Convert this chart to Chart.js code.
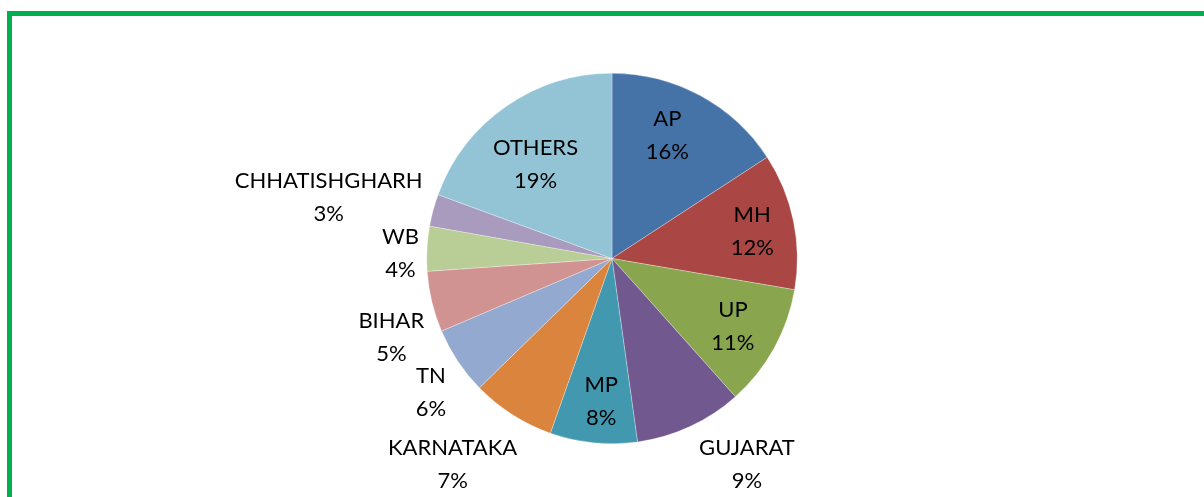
<!DOCTYPE html>
<html>
<head>
<meta charset="utf-8">
<script src="https://cdn.jsdelivr.net/npm/chart.js@4/dist/chart.umd.min.js"></script>
<style>
  html, body { margin: 0; padding: 0; background: #fff; overflow: hidden; }
  #wrap { position: relative; width: 1204px; height: 497px; }
  #frame {
    position: absolute; left: 7px; top: 11px; width: 1400px; height: 700px;
    border: 5px solid #00B050; box-sizing: border-box;
  }
  #chart { position: absolute; left: 0; top: 0; }
</style>
</head>
<body>
<div id="wrap">
  <div id="frame"></div>
  <canvas id="chart" width="1204" height="497"></canvas>
</div>
<script>
const states = ["AP", "MH", "UP", "GUJARAT", "MP", "KARNATAKA", "TN", "BIHAR", "WB", "CHHATISHGHARH", "OTHERS"];
const shares = [15.8, 11.9, 10.7, 9.4, 7.6, 7.3, 5.9, 5.3, 3.9, 2.8, 19.4];
const sliceColors = ["#4572A7", "#AA4643", "#89A54E", "#71588F", "#4198AF", "#DB843D",
                     "#93A9CF", "#D19392", "#B9CD96", "#A99BBD", "#93C4D6"];
// which labels Excel put outside the pie
const outside = [false, false, false, true, false, true, true, true, true, true, false];

const labelFont = "22px Lato, 'Liberation Sans', sans-serif";
const lineH = 33;

// draws "NAME / NN%" labels like Excel's best-fit data labels
const pieLabels = {
  id: "pieLabels",
  afterDatasetsDraw(chart, args, opts) {
    const ctx = chart.ctx;
    const meta = chart.getDatasetMeta(0);
    const total = shares.reduce((a, b) => a + b, 0);
    const shift = opts.shift || [];
    ctx.save();
    ctx.font = labelFont;
    ctx.fillStyle = "#000";
    ctx.textAlign = "center";
    ctx.textBaseline = "middle";
    meta.data.forEach((arc, i) => {
      const { x, y, startAngle, endAngle, outerRadius } = arc.getProps(["x", "y", "startAngle", "endAngle", "outerRadius"], true);
      const mid = (startAngle + endAngle) / 2;
      const ux = Math.cos(mid), uy = Math.sin(mid);
      const line1 = states[i];
      const line2 = Math.round(shares[i] / total * 100) + "%";
      const hw = Math.max(ctx.measureText(line1).width, ctx.measureText(line2).width) / 2;
      const hh = lineH;
      let cx, cy;
      if (outside[i]) {
        const gap = 14;
        const px = x + ux * (outerRadius + gap);
        const py = y + uy * (outerRadius + gap);
        const t = Math.min(Math.abs(ux) > 1e-6 ? hw / Math.abs(ux) : 1e9,
                           Math.abs(uy) > 1e-6 ? hh / Math.abs(uy) : 1e9);
        cx = px + ux * t;
        cy = py + uy * t;
      } else {
        const r = outerRadius * 0.74;
        cx = x + ux * r;
        cy = y + uy * r;
      }
      const s = shift[i] || [0, 0];
      cx += s[0];
      cy += s[1];
      ctx.fillText(line1, cx, cy - lineH / 2);
      ctx.fillText(line2, cx, cy + lineH / 2);
    });
    ctx.restore();
  }
};

new Chart(document.getElementById("chart"), {
  type: "pie",
  data: {
    labels: states,
    datasets: [{
      data: shares,
      backgroundColor: sliceColors,
      borderColor: "rgba(255,255,255,0.6)",
      borderWidth: 0.5
    }]
  },
  options: {
    responsive: false,
    animation: false,
    layout: { padding: { top: 73, bottom: 53, left: 20, right: 0 } },
    plugins: {
      legend: { display: false },
      tooltip: { enabled: false },
      // small hand nudges so the labels sit where Excel's best fit put them
      pieLabels: {
        shift: [[-10, -3], [6, 1], [1, 1], [36, -8], [3, 7], [-31, 5],
                [0, 13], [6, 24], [6, 7], [3, 16], [2, 18]]
      }
    }
  },
  plugins: [pieLabels]
});
</script>
</body>
</html>
